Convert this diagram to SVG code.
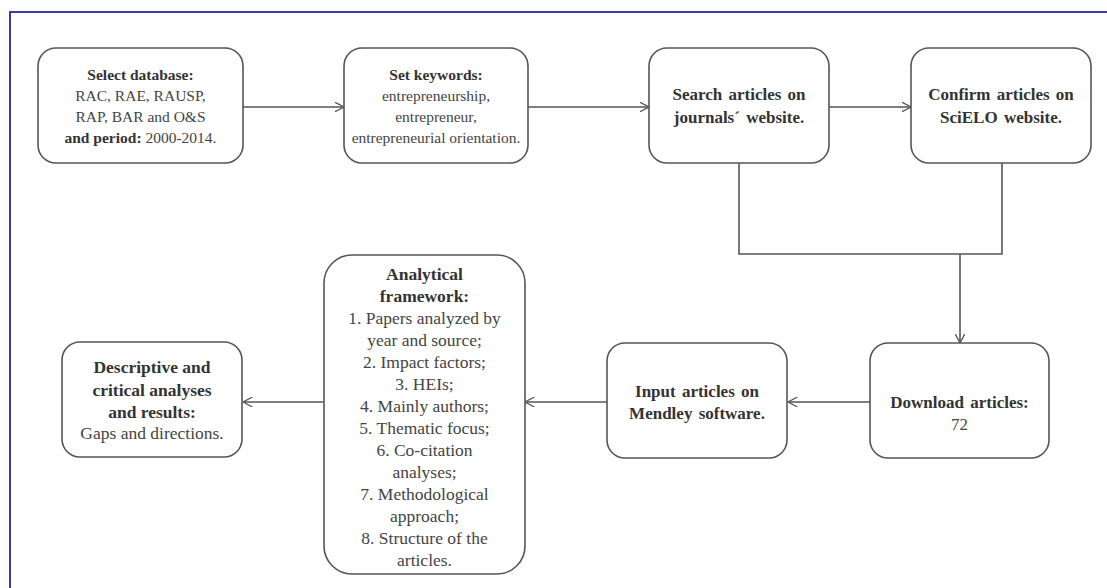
<svg xmlns="http://www.w3.org/2000/svg" width="1107" height="588" viewBox="0 0 1107 588">
<style>
.box{fill:#fff;stroke:#555;stroke-width:1.6}
.t{font-family:"Liberation Serif","Times New Roman",serif;font-size:15.5px;fill:#444;text-anchor:middle}
.m{font-size:17px;word-spacing:2px}
.l{font-size:17.5px}
.b{font-weight:bold;fill:#333}
.c{fill:none;stroke:#555;stroke-width:1.6}
</style>
<defs>
<marker id="ah" viewBox="0 0 10 10" refX="9.5" refY="5" markerWidth="10" markerHeight="10" markerUnits="userSpaceOnUse" orient="auto">
<path d="M0,0 L9.5,5 L0,10" fill="none" stroke="#555" stroke-width="1.3"/>
</marker>
</defs>
<rect width="1107" height="588" fill="#fff"/>
<path d="M10,588 V12 H1107" fill="none" stroke="#3c3ca8" stroke-width="2"/>
<g id="connectors">
<line class="c" x1="243" y1="107" x2="344" y2="107" marker-end="url(#ah)"/>
<line class="c" x1="528" y1="107" x2="649" y2="107" marker-end="url(#ah)"/>
<line class="c" x1="829" y1="107" x2="911" y2="107" marker-end="url(#ah)"/>
<polyline class="c" points="739,163 739,254 1002,254 1002,163"/>
<line class="c" x1="960" y1="254" x2="960" y2="343" marker-end="url(#ah)"/>
<line class="c" x1="870" y1="402" x2="788" y2="402" marker-end="url(#ah)"/>
<line class="c" x1="607" y1="402" x2="525" y2="402" marker-end="url(#ah)"/>
<line class="c" x1="323" y1="402" x2="243" y2="402" marker-end="url(#ah)"/>
</g>
<g id="n1">
<rect class="box" x="38" y="48" width="205" height="115" rx="18"/>
<text class="t" x="140.5"><tspan class="b" x="140.5" y="80">Select database:</tspan><tspan x="140.5" y="101">RAC, RAE, RAUSP,</tspan><tspan x="140.5" y="122">RAP, BAR and O&amp;S</tspan><tspan x="140.5" y="143"><tspan class="b">and period:</tspan> 2000-2014.</tspan></text>
</g>
<g id="n2">
<rect class="box" x="344" y="48" width="184" height="115" rx="18"/>
<text class="t" x="436"><tspan class="b" x="436" y="80">Set keywords:</tspan><tspan x="436" y="101">entrepreneurship,</tspan><tspan x="436" y="122">entrepreneur,</tspan><tspan x="436" y="143">entrepreneurial orientation.</tspan></text>
</g>
<g id="n3">
<rect class="box" x="649" y="48" width="180" height="115" rx="18"/>
<text class="t m b" x="739"><tspan x="739" y="100">Search articles on</tspan><tspan x="739" y="123">journals´ website.</tspan></text>
</g>
<g id="n4">
<rect class="box" x="911" y="48" width="180" height="115" rx="18"/>
<text class="t m b" x="1001"><tspan x="1001" y="100">Confirm articles on</tspan><tspan x="1001" y="123">SciELO website.</tspan></text>
</g>
<g id="n5">
<rect class="box" x="870" y="343" width="179" height="115" rx="18"/>
<text class="t m" x="959.5"><tspan class="b" x="959.5" y="408">Download articles:</tspan><tspan x="959.5" y="430">72</tspan></text>
</g>
<g id="n6">
<rect class="box" x="607" y="343" width="180" height="115" rx="18"/>
<text class="t m b" x="697"><tspan x="697" y="397">Input articles on</tspan><tspan x="697" y="419">Mendley software.</tspan></text>
</g>
<g id="n7">
<rect class="box" x="324" y="255" width="201" height="319" rx="28"/>
<text class="t l" x="424.5"><tspan class="b" x="424.5" y="280">Analytical</tspan><tspan class="b" x="424.5" y="302">framework:</tspan><tspan x="424.5" y="324">1. Papers analyzed by</tspan><tspan x="424.5" y="346">year and source;</tspan><tspan x="424.5" y="368">2. Impact factors;</tspan><tspan x="424.5" y="390">3. HEIs;</tspan><tspan x="424.5" y="412">4. Mainly authors;</tspan><tspan x="424.5" y="434">5. Thematic focus;</tspan><tspan x="424.5" y="456">6. Co-citation</tspan><tspan x="424.5" y="478">analyses;</tspan><tspan x="424.5" y="500">7. Methodological</tspan><tspan x="424.5" y="522">approach;</tspan><tspan x="424.5" y="544">8. Structure of the</tspan><tspan x="424.5" y="566">articles.</tspan></text>
</g>
<g id="n8">
<rect class="box" x="62" y="342" width="180" height="115" rx="18"/>
<text class="t l" x="152"><tspan class="b" x="152" y="373">Descriptive and</tspan><tspan class="b" x="152" y="396">critical analyses</tspan><tspan class="b" x="152" y="418">and results:</tspan><tspan x="152" y="439">Gaps and directions.</tspan></text>
</g>
</svg>
